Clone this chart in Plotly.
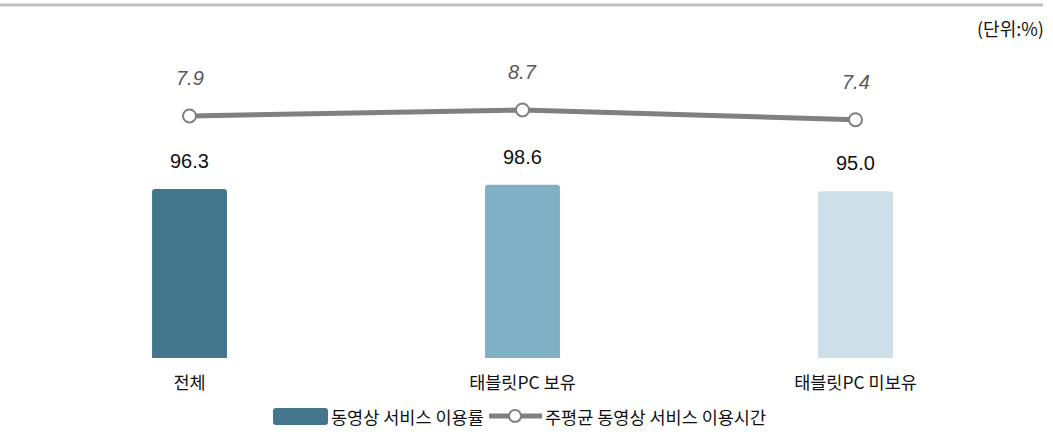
import plotly.graph_objects as go

categories = ["전체", "태블릿PC 보유", "태블릿PC 미보유"]
usage_rate = [96.3, 98.6, 95.0]
weekly_hours = [7.9, 8.7, 7.4]
bar_colors = ["#44768e", "#7fb0c6", "#cddfe8"]
series_names = ["동영상 서비스 이용률", "주평균 동영상 서비스 이용시간"]
unit_label = "(단위:%)"

FONT = "Noto Sans CJK KR"
NUMFONT = "Liberation Sans"

# plot-area geometry (pixels)
W, H = 1053, 440
L, R, T, B = 23, 31, 40, 82
PW, PH = W - L - R, H - T - B


def px(x):
    return (x - L) / PW


def py(y):
    return (H - B - y) / PH


fig = go.Figure()
fig.add_trace(go.Bar(
    x=categories, y=usage_rate, name=series_names[0],
    marker=dict(color=bar_colors, line=dict(width=0)),
    width=0.225, yaxis="y", showlegend=False,
))
fig.add_trace(go.Scatter(
    x=categories, y=weekly_hours, name=series_names[1],
    mode="lines+markers", yaxis="y2", showlegend=False,
    line=dict(color="#808080", width=5),
    marker=dict(size=13, color="white", line=dict(color="#808080", width=2)),
))

annotations = []
for c, v in zip(categories, usage_rate):
    annotations.append(dict(x=c, y=v, xref="x", yref="y", text=f"{v:.1f}",
                            showarrow=False, yshift=28,
                            font=dict(family=NUMFONT, size=20, color="#111111")))
for c, v in zip(categories, weekly_hours):
    annotations.append(dict(x=c, y=v, xref="x", yref="y2", text=f"<i>{v:.1f}</i>",
                            showarrow=False, yshift=38,
                            font=dict(family=NUMFONT, size=20, color="#595959")))
annotations.append(dict(x=px(1046), y=py(28), xref="paper", yref="paper",
                        xanchor="right", yanchor="middle", text=unit_label,
                        showarrow=False,
                        font=dict(family=FONT, size=18, color="#111111")))

# manual legend
annotations.append(dict(x=px(329), y=py(416), xref="paper", yref="paper",
                        xanchor="left", yanchor="middle", text=series_names[0],
                        showarrow=False,
                        font=dict(family=FONT, size=17.5, color="#111111")))
annotations.append(dict(x=px(543), y=py(416), xref="paper", yref="paper",
                        xanchor="left", yanchor="middle", text=series_names[1],
                        showarrow=False,
                        font=dict(family=FONT, size=17.5, color="#111111")))

# rounded legend swatch path
x0, x1, y0, y1, r = px(273), px(328), py(408), py(425), 3
rx, ry = r / PW, r / PH
swatch_path = (f"M{x0+rx},{y0} L{x1-rx},{y0} Q{x1},{y0} {x1},{y0-ry} "
               f"L{x1},{y1+ry} Q{x1},{y1} {x1-rx},{y1} L{x0+rx},{y1} "
               f"Q{x0},{y1} {x0},{y1+ry} L{x0},{y0-ry} Q{x0},{y0} {x0+rx},{y0} Z")

shapes = [
    # top rule
    dict(type="line", xref="paper", yref="paper", x0=px(0), x1=px(1043),
         y0=py(5), y1=py(5), line=dict(color="#c0c0c0", width=3)),
    # legend swatch for bars
    dict(type="path", xref="paper", yref="paper", path=swatch_path,
         fillcolor=bar_colors[0], line=dict(width=0)),
    # legend line symbol
    dict(type="line", xref="paper", yref="paper", x0=px(489), x1=px(542),
         y0=py(416), y1=py(416), line=dict(color="#808080", width=5)),
    dict(type="circle", xref="paper", yref="paper", x0=px(509), x1=px(521),
         y0=py(422), y1=py(410), fillcolor="white",
         line=dict(color="#808080", width=2)),
]

fig.update_layout(
    width=W, height=H,
    margin=dict(l=L, r=R, t=T, b=B),
    paper_bgcolor="white", plot_bgcolor="white",
    barcornerradius=3,
    showlegend=False,
    xaxis=dict(showgrid=False, showline=False, zeroline=False, ticks="",
               automargin=False, ticklabelstandoff=12,
               tickfont=dict(family=FONT, size=17.5, color="#111111")),
    yaxis=dict(range=[0, 181.1], visible=False, showgrid=False, automargin=False),
    yaxis2=dict(range=[-24.37, 18.03], overlaying="y", visible=False,
                showgrid=False, automargin=False),
    annotations=annotations,
    shapes=shapes,
)

fig.write_html("out.html")
